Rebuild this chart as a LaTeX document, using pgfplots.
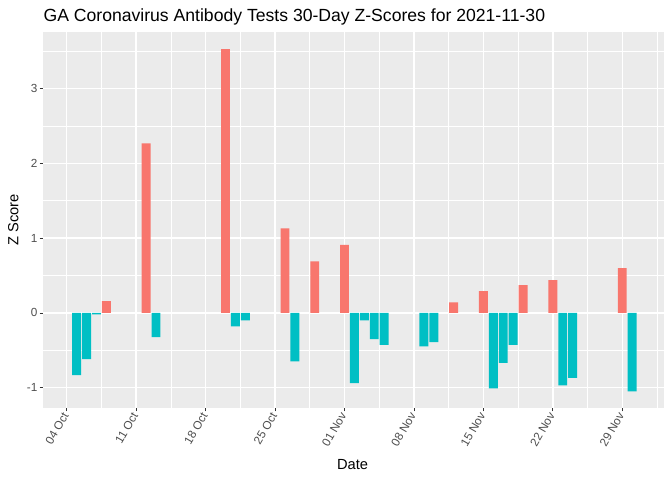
\documentclass[border=0pt]{standalone}
\usepackage{pgfplots}
\pgfplotsset{compat=1.18}
\usepackage{fontspec}
\setmainfont{Liberation Sans}
\definecolor{panel}{HTML}{EBEBEB}
\definecolor{redbar}{HTML}{F8766D}
\definecolor{tealbar}{HTML}{00BFC4}
\definecolor{ticklab}{HTML}{4D4D4D}
\definecolor{tickmark}{HTML}{333333}
\begin{document}
\begin{tikzpicture}
\path[use as bounding box] (0,0) rectangle (504pt,360pt);
\begin{axis}[
  at={(32.5pt,54.2pt)}, anchor=south west,
  scale only axis, width=465.3pt, height=281.8pt,
  xmin=-2.36, xmax=60.18, ymin=-1.27, ymax=3.76,
  axis background/.style={fill=panel},
  axis line style={draw=none},
  xtick={0,7,14,21,28,35,42,49,56},
  xticklabels={04 Oct,11 Oct,18 Oct,25 Oct,01 Nov,08 Nov,15 Nov,22 Nov,29 Nov},
  minor xtick={3.5,10.5,17.5,24.5,31.5,38.5,45.5,52.5,59.5},
  ytick={-1,0,1,2,3},
  yticklabels={-1,0,1,2,3},
  minor ytick={-0.5,0.5,1.5,2.5,3.5},
  grid=both,
  major grid style={white, line width=1.07pt},
  minor grid style={white, line width=0.53pt},
  tick align=outside, tick pos=left,
  major tick length=2.75pt, minor tick length=0pt,
  tick style={tickmark, line width=0.53pt},
  xticklabel style={rotate=60, anchor=east, font=\fontsize{8.8pt}{10pt}\selectfont, text=ticklab, inner sep=1.5pt},
  yticklabel style={font=\fontsize{8.8pt}{10pt}\selectfont, text=ticklab, inner sep=1.5pt},
  clip=false,
]
\addplot[ybar, bar width=0.9, bar shift=0pt, fill=redbar, draw=none] coordinates {
 (4,0.157) (8,2.27) (16,3.53) (22,1.13) (25,0.69) (28,0.91) (39,0.14) (42,0.29) (46,0.37) (49,0.44) (56,0.60)
};
\addplot[ybar, bar width=0.9, bar shift=0pt, fill=tealbar, draw=none] coordinates {
 (1,-0.834) (2,-0.62) (3,-0.02) (9,-0.325) (17,-0.18) (18,-0.10) (23,-0.65)
 (29,-0.94) (30,-0.10) (31,-0.35) (32,-0.43) (36,-0.45) (37,-0.39)
 (43,-1.01) (44,-0.67) (45,-0.43) (50,-0.97) (51,-0.87) (57,-1.05)
};
\end{axis}
\node[anchor=base west, inner sep=0pt, font=\fontsize{13.2pt}{15pt}\selectfont] at (32.5pt,344.25pt) {GA Coronavirus Antibody Tests 30-Day Z-Scores for 2021-11-30};
\node[rotate=90, inner sep=0pt, font=\fontsize{11pt}{13pt}\selectfont] at (10pt,195pt) {Z Score};
\node[inner sep=0pt, font=\fontsize{11pt}{13pt}\selectfont] at (264.4pt,11.25pt) {Date};
\end{tikzpicture}
\end{document}
